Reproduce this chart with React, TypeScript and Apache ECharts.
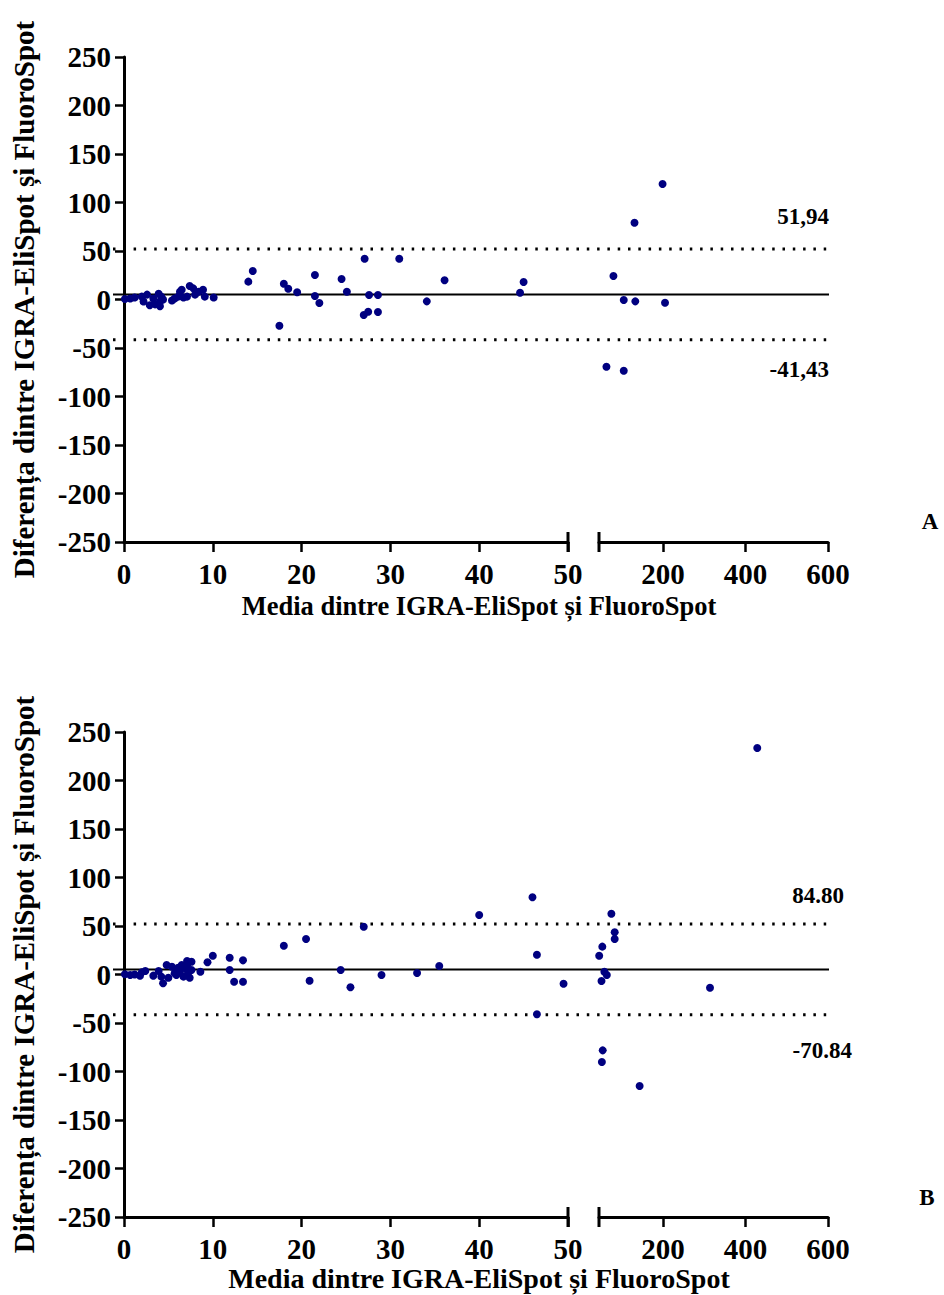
import React, { useEffect, useRef } from "react";
import * as echarts from "echarts";

const FONT = '"Liberation Serif", "Times New Roman", serif';
const DOT = "#000080";

// Panel A
const aLeftMean = [0.1, 0.7, 1.2, 2.0, 2.2, 2.6, 2.9, 3.3, 3.5, 3.9, 4.05, 4.05, 4.2, 4.4, 5.4, 5.7, 6.1, 6.3, 6.5, 6.7, 7.1, 7.4, 7.8, 8.0, 8.4, 8.9, 9.1, 10.1, 14.0, 14.5, 17.5, 18.0, 18.5, 19.5, 21.5, 21.5, 22.0, 24.5, 25.1, 27.1, 27.0, 27.5, 27.6, 28.6, 28.6, 31.0, 34.1, 36.1, 44.6, 45.0];
const aLeftDiff = [0.5, 1, 2, 3, -2, 5, -6, 1, -5, 6, -7, -2, 3, 0, -1, 1, 3, 8, 10, 2, 3, 14, 11.5, 5, 8, 10, 3, 2, 18.4, 29.4, -27, 16.3, 11.1, 7.4, 25.3, 3.6, -3.6, 21.1, 8.0, 42, -16, -12.6, 4.6, -12.9, 4.6, 42, -1.9, 19.8, 7.0, 18.0];
const aRightMean = [199, 131, 80, 105, 133, 205, 63, 105];
const aRightDiff = [119, 79.2, 24.2, -0.5, -1.9, -3.3, -69.3, -73.4];

// Panel B
const bLeftMean = [0.1, 0.7, 1.2, 1.8, 2.0, 2.4, 3.3, 3.9, 4.2, 4.4, 4.8, 5.0, 5.4, 5.7, 5.9, 6.1, 6.3, 6.5, 6.7, 6.9, 7.1, 7.2, 7.4, 7.1, 7.6, 7.6, 8.6, 9.4, 10.0, 11.9, 11.9, 12.4, 13.4, 13.4, 18.0, 20.5, 20.9, 24.4, 25.5, 27.0, 29.0, 33.0, 35.5, 40.0, 46.0, 46.5, 46.5, 49.5];
const bLeftDiff = [0.2, -0.5, 0, -1.2, 2.2, 3.6, -1.2, 3.6, -2.2, -9, 9.8, -3.3, 8, 1.2, -0.5, 7, 2.9, 9.8, -2.2, 6.4, 13.9, 1.2, -3.3, 9.1, 13.2, 4.6, 2.9, 12.6, 19.4, 17.3, 4.6, -7.4, 14.6, -7.4, 29.7, 36.6, -6.4, 4.6, -13.2, 49.3, -0.5, 1.5, 8.8, 61.3, 79.6, 20.4, -41, -9.5];
const bRightMean = [428.6, 75, 83, 83, 53, 45.5, 58, 64, 51, 314, 54, 52, 143.5];
const bRightDiff = [233.5, 62.7, 43.5, 36.6, 28.7, 19.4, 2.9, -0.5, -6.7, -13.6, -78.2, -90.2, -115];

// Reference lines (upper LoA, mean bias, lower LoA) as drawn
const aLines = [51.94, 5.255, -41.43];
const bLines = [51.94, 5.255, -41.43];
const aLabels = ["51,94", "-41,43"];
const bLabels = ["84.80", "-70.84"];

const leftTicks = [0, 10, 20, 30, 40, 50];
const rightTicks = [200, 400, 600];
const yTitle = "Diferența dintre IGRA-EliSpot și FluoroSpot";
const xTitle = "Media dintre IGRA-EliSpot și FluoroSpot";

const zip = (xs: number[], ys: number[]) => xs.map((x, i) => [x, ys[i]]);

function buildPanel(p: number, top: number, lm: number[], ld: number[], rm: number[], rd: number[], lines: number[]) {
  const H = 485;
  const g0 = p * 3;
  const grids = [
    { left: 124, top, width: 444, height: H },
    { left: 599, top, width: 229, height: H },
    { left: 113, top, width: 716, height: H },
  ];
  const tickLabel = { color: "#000", fontFamily: FONT, fontWeight: "bold", fontSize: 29 };
  const xAxes = [
    {
      gridIndex: g0, type: "value", min: 0, max: 50, interval: 10,
      axisLine: { show: true, onZero: false, lineStyle: { color: "#000", width: 3 } },
      axisTick: { show: true, length: 10, lineStyle: { color: "#000", width: 2.5 } },
      axisLabel: { ...tickLabel, margin: 17, customValues: leftTicks },
      splitLine: { show: false },
    },
    {
      gridIndex: g0 + 1, type: "value", min: 45, max: 600,
      axisLine: { show: true, onZero: false, lineStyle: { color: "#000", width: 3 } },
      axisTick: { show: true, length: 10, lineStyle: { color: "#000", width: 2.5 }, customValues: rightTicks },
      axisLabel: { ...tickLabel, margin: 17, customValues: rightTicks },
      splitLine: { show: false },
    },
    { gridIndex: g0 + 2, type: "value", min: 0, max: 1, show: false },
  ];
  const yAxes = [
    {
      gridIndex: g0, type: "value", min: -250, max: 250, interval: 50,
      axisLine: { show: true, onZero: false, lineStyle: { color: "#000", width: 3 } },
      axisTick: { show: true, length: 9, lineStyle: { color: "#000", width: 2.5 } },
      axisLabel: { ...tickLabel, margin: 13 },
      splitLine: { show: false },
      name: yTitle, nameLocation: "middle", nameRotate: 90, nameGap: 86,
      nameTextStyle: { color: "#000", fontFamily: FONT, fontWeight: "bold", fontSize: 29 },
    },
    { gridIndex: g0 + 1, type: "value", min: -250, max: 250, show: false },
    { gridIndex: g0 + 2, type: "value", min: -250, max: 250, show: false },
  ];
  const lineStyles = [
    { color: "#000", width: 3, type: [2.5, 7.8] },
    { color: "#000", width: 2 },
    { color: "#000", width: 3, type: [2.5, 7.8] },
  ];
  const series: any[] = lines.map((v, i) => ({
    type: "line", xAxisIndex: g0 + 2, yAxisIndex: g0 + 2, data: [[0, v], [1, v]],
    symbol: "none", lineStyle: lineStyles[i], z: 1, silent: true,
  }));
  series.push(
    { type: "scatter", xAxisIndex: g0, yAxisIndex: g0, data: zip(lm, ld), symbolSize: 8, itemStyle: { color: DOT, opacity: 1 }, z: 5 },
    { type: "scatter", xAxisIndex: g0 + 1, yAxisIndex: g0 + 1, data: zip(rm, rd), symbolSize: 8, itemStyle: { color: DOT, opacity: 1 }, z: 5 },
  );
  return { grids, xAxes, yAxes, series };
}

export default function App() {
  const ref = useRef<HTMLDivElement>(null);
  useEffect(() => {
    if (!ref.current) return;
    const chart = echarts.init(ref.current, undefined, { renderer: "svg" });
    const A = buildPanel(0, 57, aLeftMean, aLeftDiff, aRightMean, aRightDiff, aLines);
    const B = buildPanel(1, 732, bLeftMean, bLeftDiff, bRightMean, bRightDiff, bLines);
    const txt = (x: number, y: number, text: string, size: number, align = "right") => ({
      type: "text", x, y,
      style: { text, fill: "#000", font: `bold ${size}px ${FONT}`, textAlign: align, textVerticalAlign: "middle" },
    });
    const brk = (x: number, y: number) => ({
      type: "line", shape: { x1: x, y1: y - 10, x2: x, y2: y + 10 }, style: { stroke: "#000", lineWidth: 3 },
    });
    chart.setOption({
      animation: false,
      backgroundColor: "#fff",
      grid: [...A.grids, ...B.grids],
      xAxis: [...A.xAxes, ...B.xAxes],
      yAxis: [...A.yAxes, ...B.yAxes],
      series: [...A.series, ...B.series],
      graphic: [
        txt(829, 216, aLabels[0], 23),
        txt(829, 369, aLabels[1], 23),
        txt(844, 895, bLabels[0], 23),
        txt(852, 1050, bLabels[1], 23),
        txt(930, 521, "A", 23, "center"),
        txt(927, 1197, "B", 23, "center"),
        txt(479, 606, xTitle, 26.5, "center"),
        txt(479, 1278, xTitle, 28, "center"),
        brk(568, 542), brk(599, 542),
        brk(568, 1217), brk(599, 1217),
      ],
    });
    return () => chart.dispose();
  }, []);
  return <div ref={ref} style={{ position: "absolute", left: 0, top: 0, width: 944, height: 1295 }} />;
}
